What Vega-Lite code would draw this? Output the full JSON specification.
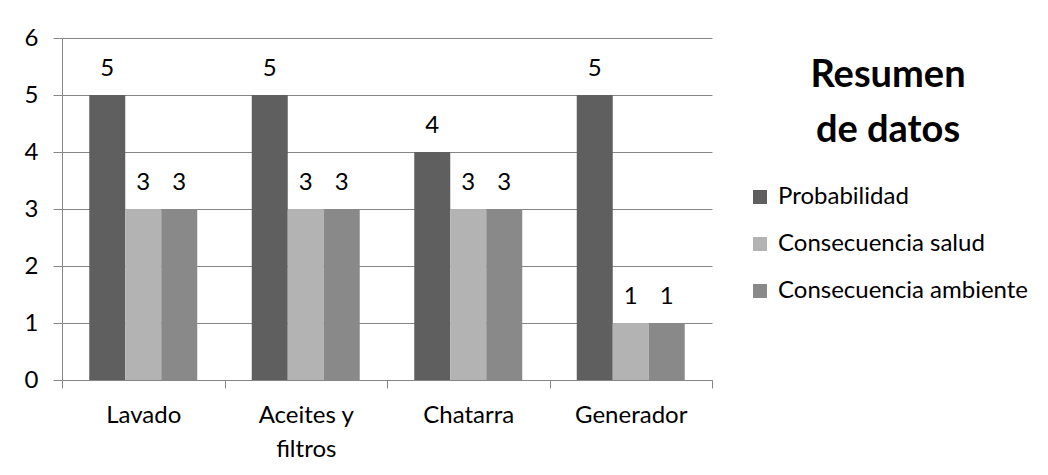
{
  "$schema": "https://vega.github.io/schema/vega-lite/v6.json",
  "width": 650,
  "height": 342,
  "autosize": {"type": "none"},
  "padding": {"left": 62, "top": 38, "right": 336, "bottom": 95},
  "background": "white",
  "config": {"font": "Lato", "view": {"stroke": null}},
  "data": {
    "values": [
      {"categoria": "Lavado", "serie": "Probabilidad", "valor": 5},
      {"categoria": "Lavado", "serie": "Consecuencia salud", "valor": 3},
      {"categoria": "Lavado", "serie": "Consecuencia ambiente", "valor": 3},
      {"categoria": "Aceites y filtros", "serie": "Probabilidad", "valor": 5},
      {"categoria": "Aceites y filtros", "serie": "Consecuencia salud", "valor": 3},
      {"categoria": "Aceites y filtros", "serie": "Consecuencia ambiente", "valor": 3},
      {"categoria": "Chatarra", "serie": "Probabilidad", "valor": 4},
      {"categoria": "Chatarra", "serie": "Consecuencia salud", "valor": 3},
      {"categoria": "Chatarra", "serie": "Consecuencia ambiente", "valor": 3},
      {"categoria": "Generador", "serie": "Probabilidad", "valor": 5},
      {"categoria": "Generador", "serie": "Consecuencia salud", "valor": 1},
      {"categoria": "Generador", "serie": "Consecuencia ambiente", "valor": 1}
    ]
  },
  "encoding": {
    "x": {
      "field": "categoria",
      "type": "nominal",
      "sort": ["Lavado", "Aceites y filtros", "Chatarra", "Generador"],
      "scale": {"paddingInner": 0, "paddingOuter": 0},
      "axis": {
        "title": null,
        "labelAngle": 0,
        "tickBand": "extent",
        "tickSize": 8,
        "tickColor": "#868686",
        "domainColor": "#868686",
        "labelFontSize": 24,
        "labelColor": "black",
        "labelBaseline": "alphabetic",
        "labelPadding": 34,
        "labelLineHeight": 34,
        "labelExpr": "datum.label == 'Aceites y filtros' ? ['Aceites y', 'filtros'] : datum.label"
      }
    },
    "xOffset": {
      "field": "serie",
      "type": "nominal",
      "sort": ["Probabilidad", "Consecuencia salud", "Consecuencia ambiente"],
      "scale": {"paddingInner": 0, "paddingOuter": 0.757}
    },
    "y": {
      "field": "valor",
      "type": "quantitative",
      "scale": {"domain": [0, 6]},
      "axis": {
        "title": null,
        "values": [0, 1, 2, 3, 4, 5, 6],
        "grid": true,
        "gridColor": "#868686",
        "tickSize": 9,
        "tickColor": "#868686",
        "domainColor": "#868686",
        "labelFontSize": 24,
        "labelColor": "black",
        "labelPadding": 15
      }
    }
  },
  "layer": [
    {
      "mark": {"type": "bar"},
      "encoding": {
        "color": {
          "field": "serie",
          "type": "nominal",
          "sort": ["Probabilidad", "Consecuencia salud", "Consecuencia ambiente"],
          "scale": {
            "domain": ["Probabilidad", "Consecuencia salud", "Consecuencia ambiente"],
            "range": ["#5f5f5f", "#b3b3b3", "#898989"]
          },
          "legend": {
            "title": ["Resumen", "de datos"],
            "orient": "none",
            "legendX": 686,
            "legendY": 19,
            "titleFontSize": 38,
            "titleFontWeight": "bold",
            "titleColor": "black",
            "titleLineHeight": 55,
            "titleAnchor": "middle",
            "titleAlign": "center",
            "titlePadding": 35,
            "titleLimit": 400,
            "labelFontSize": 24,
            "labelColor": "black",
            "labelLimit": 400,
            "labelOffset": 6,
            "symbolType": "square",
            "symbolSize": 196,
            "symbolStrokeWidth": 0,
            "symbolOpacity": 1,
            "rowPadding": 23
          }
        }
      }
    },
    {
      "mark": {"type": "text", "baseline": "alphabetic", "dy": -19, "fontSize": 24, "color": "black"},
      "encoding": {"text": {"field": "valor", "type": "quantitative"}}
    }
  ]
}
